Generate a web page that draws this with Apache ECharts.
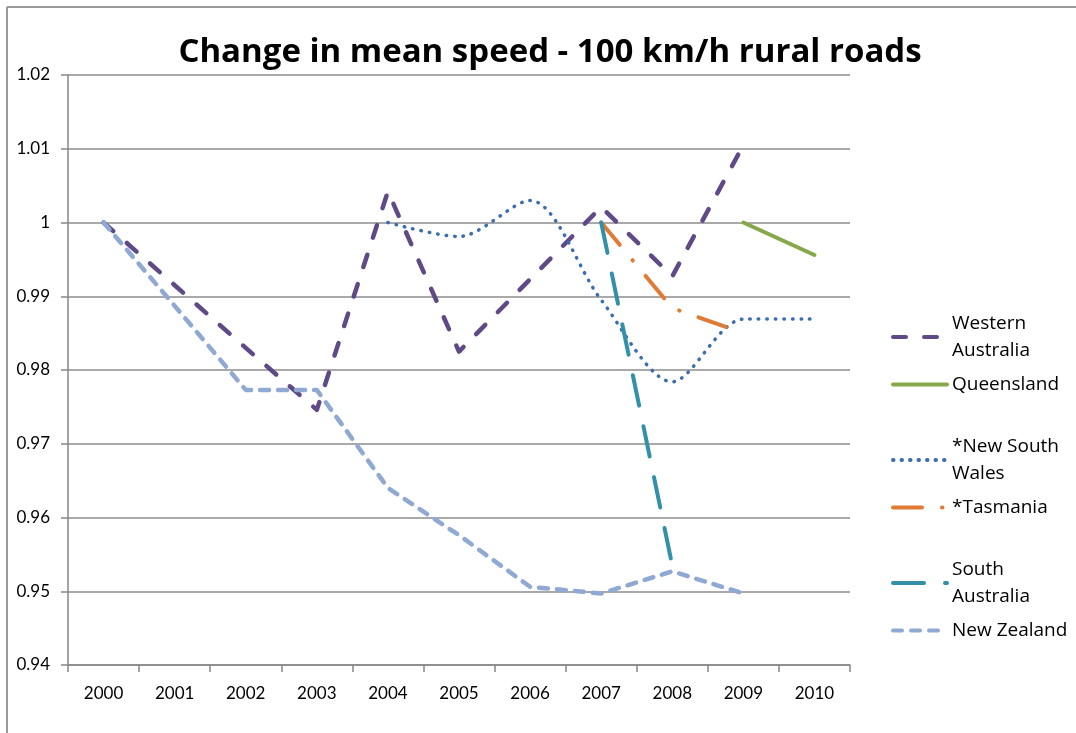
<!DOCTYPE html>
<html>
<head>
<meta charset="utf-8">
<script src="https://cdn.jsdelivr.net/npm/echarts@6/dist/echarts.min.js"></script>
<style>
  html, body { margin: 0; padding: 0; background: #fff; }
  #chart { width: 1076px; height: 733px; }
</style>
</head>
<body>
<div id="chart"></div>
<script>
var years = ['2000', '2001', '2002', '2003', '2004', '2005', '2006', '2007', '2008', '2009', '2010'];

var westernAustralia = [1.0, 0.9915, 0.983, 0.9746, 1.0042, 0.9825, 0.9923, 1.0021, 0.9927, 1.0105, null];
var queensland       = [null, null, null, null, null, null, null, null, null, 1.0, 0.9956];
var newSouthWales    = [null, null, null, null, 1.0, 0.9981, 1.003, 0.9895, 0.9784, 0.9869, 0.9869];
var tasmania         = [null, null, null, null, null, null, null, 1.0, 0.9884, 0.985, null];
var southAustralia   = [null, null, null, null, null, null, null, 1.0, 0.9535, null, null];
var newZealand       = [1.0, 0.9887, 0.9773, 0.9773, 0.964, 0.9576, 0.9506, 0.9497, 0.9527, 0.9497, null];

var font = 'Lato, "Open Sans", sans-serif';
var wideFont = '"Open Sans", Lato, sans-serif';
var chart = echarts.init(document.getElementById('chart'));

// one legend per entry so the uneven spacing of the original can be kept
function legendAt(name, top) {
  return {
    data: [name],
    orient: 'vertical',
    left: 886,
    top: top,
    itemWidth: 54,
    itemHeight: 14,
    itemGap: 0,
    itemStyle: { opacity: 0 },
    lineStyle: { width: 4, cap: 'round' },
    textStyle: { fontFamily: wideFont, fontSize: 19, color: '#000', lineHeight: 27 },
    selectedMode: false
  };
}

function lineSeries(name, data, color, dash, width, smooth) {
  return {
    name: name,
    type: 'line',
    data: data,
    symbol: 'none',
    smooth: smooth || false,
    connectNulls: false,
    lineStyle: { color: color, width: width, type: dash, cap: 'round', join: 'round' },
    itemStyle: { color: color },
    emphasis: { disabled: true }
  };
}

var option = {
  animation: false,
  backgroundColor: '#fff',
  title: {
    text: 'Change in mean speed - 100 km/h rural roads',
    left: 545,
    textAlign: 'center',
    top: 31,
    textStyle: { fontFamily: wideFont, fontSize: 33, fontWeight: 'bold', color: '#000' }
  },
  graphic: [
    { type: 'line', shape: { x1: 7, y1: 7, x2: 7, y2: 733 }, style: { stroke: '#9a9a9a', lineWidth: 2 } },
    { type: 'line', shape: { x1: 7, y1: 7, x2: 1076, y2: 7 }, style: { stroke: '#9a9a9a', lineWidth: 2 } }
  ],
  legend: [
    legendAt('Western\nAustralia', 305),
    legendAt('Queensland', 366),
    legendAt('*New South\nWales', 428),
    legendAt('*Tasmania', 489),
    legendAt('South\nAustralia', 551),
    legendAt('New Zealand', 612)
  ],
  grid: { left: 68, right: 226, top: 75, bottom: 68, containLabel: false },
  xAxis: {
    type: 'category',
    data: years,
    boundaryGap: true,
    axisLine: { lineStyle: { color: '#868686', width: 1.5 } },
    axisTick: { show: true, length: 7, lineStyle: { color: '#868686', width: 1.5 } },
    axisLabel: { fontFamily: font, fontSize: 17, color: '#000', margin: 20 },
    splitLine: { show: false }
  },
  yAxis: {
    type: 'value',
    min: 0.94,
    max: 1.02,
    interval: 0.01,
    axisLine: { show: true, lineStyle: { color: '#868686', width: 1.5 } },
    axisTick: { show: true, length: 7, lineStyle: { color: '#868686', width: 1.5 } },
    axisLabel: {
      fontFamily: font, fontSize: 17, color: '#000', margin: 18,
      formatter: function (v) { return String(+v.toFixed(2)); }
    },
    splitLine: { show: true, lineStyle: { color: '#8c8c8c', width: 1.5 } }
  },
  series: [
    lineSeries('Western\nAustralia', westernAustralia, '#5f4a87', [13, 18], 4.5),
    lineSeries('Queensland', queensland, '#85a94a', 'solid', 4),
    lineSeries('*New South\nWales', newSouthWales, '#3b6db0', [0.5, 8], 3.5, 0.3),
    lineSeries('*Tasmania', tasmania, '#e07b35', [29, 20, 0.5, 20], 4),
    lineSeries('South\nAustralia', southAustralia, '#3291a8', [31, 21], 4),
    lineSeries('New Zealand', newZealand, '#8fa9d2', [9, 9], 4.5)
  ]
};

chart.setOption(option);
</script>
</body>
</html>
